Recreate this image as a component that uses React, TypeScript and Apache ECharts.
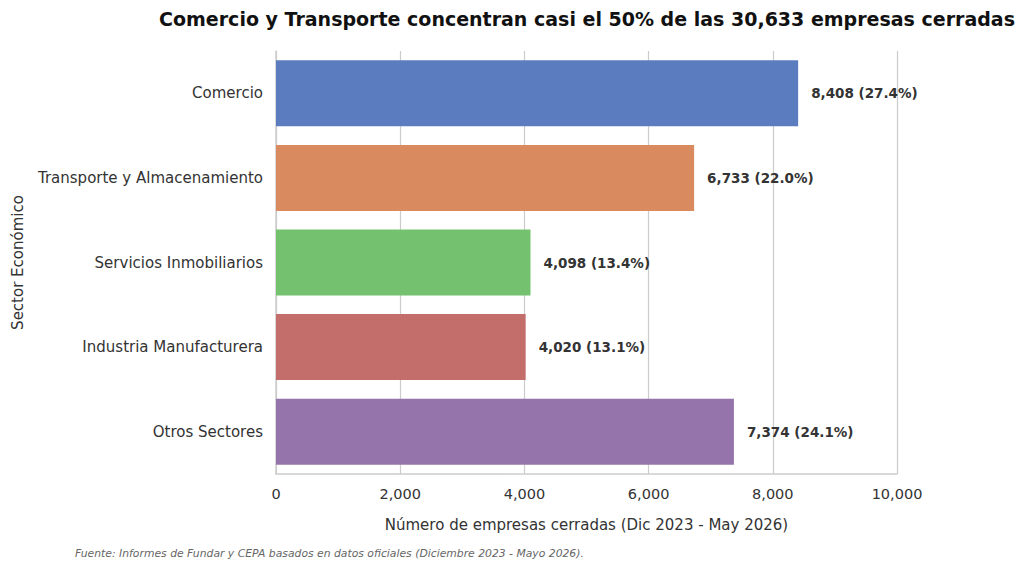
import React, { useEffect, useRef } from "react";
import * as echarts from "echarts";

// sectors, top to bottom
const sectors = [
  "Comercio",
  "Transporte y Almacenamiento",
  "Servicios Inmobiliarios",
  "Industria Manufacturera",
  "Otros Sectores",
];
const closed = [8408, 6733, 4098, 4020, 7374];
const shares = [27.4, 22.0, 13.4, 13.1, 24.1];
const barColors = ["#5b7dbf", "#d98a5f", "#74c170", "#c46e6c", "#9474ab"];
const xTicks = [0, 2000, 4000, 6000, 8000, 10000];

const FONT = "DejaVu Sans";

const App: React.FC = () => {
  const chartRef = useRef<HTMLDivElement>(null);

  useEffect(() => {
    if (!chartRef.current) return;
    const chart = echarts.init(chartRef.current, undefined, { renderer: "svg" });

    chart.setOption({
      animation: false,
      textStyle: { fontFamily: FONT },
      title: {
        text: "Comercio y Transporte concentran casi el 50% de las 30,633 empresas cerradas",
        left: 582,
        textAlign: "center",
        top: 4,
        textStyle: { fontFamily: FONT, fontSize: 19, fontWeight: "bold", color: "#111" },
      },
      grid: { left: 276, right: 127, top: 51, bottom: 96 },
      xAxis: {
        type: "value",
        min: xTicks[0],
        max: xTicks[xTicks.length - 1],
        interval: 2000,
        name: "Número de empresas cerradas (Dic 2023 - May 2026)",
        nameLocation: "middle",
        nameGap: 43,
        nameTextStyle: { fontFamily: FONT, fontSize: 15, color: "#333" },
        axisLine: { show: true, lineStyle: { color: "#cccccc", width: 1.5 } },
        axisTick: { show: false },
        axisLabel: {
          fontFamily: FONT,
          fontSize: 14.5,
          color: "#333",
          margin: 12,
          formatter: (v: number) => v.toLocaleString("en-US"),
        },
        splitLine: { show: true, lineStyle: { color: "#cccccc", width: 1.2 } },
      },
      yAxis: {
        type: "category",
        data: sectors,
        inverse: true,
        name: "Sector Económico",
        nameLocation: "middle",
        nameRotate: 90,
        nameGap: 251,
        nameTextStyle: { fontFamily: FONT, fontSize: 15, color: "#333" },
        axisLine: { show: true, lineStyle: { color: "#cccccc", width: 1.5 } },
        axisTick: { show: false },
        axisLabel: { fontFamily: FONT, fontSize: 15, color: "#333", margin: 13 },
        splitLine: { show: false },
      },
      series: [
        {
          type: "bar",
          barCategoryGap: "22%",
          data: closed.map((v, i) => ({ value: v, itemStyle: { color: barColors[i] } })),
          label: {
            show: true,
            position: "right",
            distance: 13,
            fontFamily: FONT,
            fontSize: 13.5,
            fontWeight: "bold",
            color: "#333",
            formatter: (p: any) =>
              `${closed[p.dataIndex].toLocaleString("en-US")} (${shares[p.dataIndex].toFixed(1)}%)`,
          },
        },
      ],
      graphic: [
        {
          type: "text",
          left: 75,
          top: 548,
          style: {
            text: "Fuente: Informes de Fundar y CEPA basados en datos oficiales (Diciembre 2023 - Mayo 2026).",
            font: `italic 10.8px "${FONT}"`,
            fill: "#666",
          },
        },
      ],
    });

    return () => {
      chart.dispose();
    };
  }, []);

  return <div ref={chartRef} style={{ width: "1024px", height: "570px", margin: "-8px" }}></div>;
};

export default App;
